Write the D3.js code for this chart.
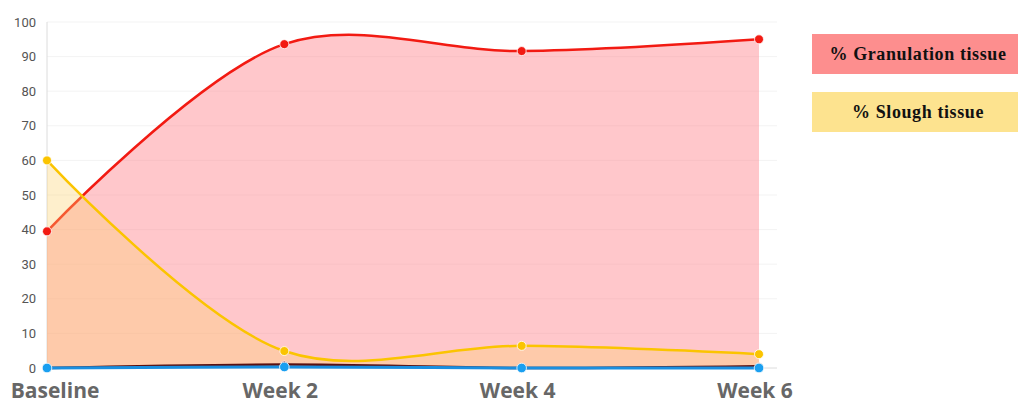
<!DOCTYPE html>
<html>
<head>
<meta charset="utf-8">
<script src="https://cdn.jsdelivr.net/npm/d3@7"></script>
<style>
  body { margin: 0; background: #fff; }
  svg { display: block; }
</style>
</head>
<body>
<svg id="chart"></svg>
<script>
// chart values
const weeks = ["Baseline", "Week 2", "Week 4", "Week 6"];
const granulation = [39.5, 93.6, 91.6, 95];
const slough = [60, 4.9, 6.4, 4];
const necrotic = [0, 1, 0, 0.5];
const other = [0, 0.3, 0, 0];
const yTicks = [0, 10, 20, 30, 40, 50, 60, 70, 80, 90, 100];
const legendItems = ["% Granulation tissue", "% Slough tissue"];

const width = 1018, height = 403;
const margin = {top: 22, right: 259, bottom: 35, left: 47};
const h = height - margin.top - margin.bottom;

const svg = d3.select("#chart").attr("width", width).attr("height", height);
const g = svg.append("g").attr("transform", `translate(${margin.left},${margin.top})`);

const x = d3.scalePoint().domain(weeks).range([0, 712]);
const y = d3.scaleLinear().domain([0, 100]).range([h, 0]);

// gridlines
g.selectAll(".grid")
    .data(yTicks.slice(1))
    .join("line")
    .attr("x1", 0).attr("x2", 730)
    .attr("y1", d => y(d)).attr("y2", d => y(d))
    .attr("stroke", "#f3f3f3");

// axis lines
g.append("line").attr("x1", 0).attr("x2", 0).attr("y1", 0).attr("y2", h)
    .attr("stroke", "#dcdcdc");
g.append("line").attr("x1", 0).attr("x2", 730).attr("y1", h).attr("y2", h)
    .attr("stroke", "#dcdcdc");

// y tick labels
g.selectAll(".ylab")
    .data(yTicks)
    .join("text")
    .attr("x", -11)
    .attr("y", d => y(d))
    .attr("dy", "0.35em")
    .attr("text-anchor", "end")
    .style("font-family", "Roboto, 'Open Sans', sans-serif")
    .style("font-size", "13px")
    .style("fill", "#555")
    .text(d => d);

// x tick labels
g.selectAll(".xlab")
    .data(weeks)
    .join("text")
    .attr("x", (d, i) => x(d) + (i === 0 ? 8 : -4))
    .attr("y", h + 30)
    .attr("text-anchor", "middle")
    .style("font-family", "'Open Sans', 'DejaVu Sans', sans-serif")
    .style("font-weight", "bold")
    .style("font-size", "21px")
    .style("fill", "#676767")
    .text(d => d);

const curve = d3.curveCatmullRom.alpha(0.5);

function drawSeries(vals, lineColor, fill, lw) {
  const pts = weeks.map((k, i) => [x(k), y(vals[i])]);
  if (fill) {
    g.append("path")
        .datum(pts)
        .attr("d", d3.area().x(d => d[0]).y0(h).y1(d => d[1]).curve(curve))
        .attr("fill", fill);
  }
  g.append("path")
      .datum(pts)
      .attr("d", d3.line().x(d => d[0]).y(d => d[1]).curve(curve))
      .attr("fill", "none")
      .attr("stroke", lineColor)
      .attr("stroke-width", lw);
  return pts;
}

const granPts = drawSeries(granulation, "#f21a12", "rgba(255,130,140,0.45)", 2.5);
const sloughPts = drawSeries(slough, "#fbc400", "rgba(253,210,110,0.35)", 2.5);
const necPts = drawSeries(necrotic, "#5a1010", null, 2.5);
const othPts = drawSeries(other, "#1a8fe0", null, 3);

function dots(pts, color, r) {
  g.append("g").selectAll("circle")
      .data(pts)
      .join("circle")
      .attr("cx", d => d[0]).attr("cy", d => d[1])
      .attr("r", r)
      .attr("fill", color)
      .attr("stroke", "#fff")
      .attr("stroke-width", 0.8);
}
dots(necPts, "#7a1010", 3.5);
dots(granPts, "#f21a12", 4.5);
dots(sloughPts, "#fbc400", 4.5);
dots(othPts, "#1a9ff0", 4.8);

// legend
const legendColors = ["#fd8e8e", "#fde38f"];
const lg = svg.append("g").attr("transform", "translate(812,34)");
lg.selectAll("rect")
    .data(legendItems)
    .join("rect")
    .attr("x", 0).attr("y", (d, i) => i * 58)
    .attr("width", 206).attr("height", 40)
    .attr("fill", (d, i) => legendColors[i]);
lg.selectAll("text")
    .data(legendItems)
    .join("text")
    .attr("x", 106).attr("y", (d, i) => i * 58 + 20)
    .attr("dy", "0.35em")
    .attr("text-anchor", "middle")
    .style("font-family", "'Liberation Serif', 'Times New Roman', serif")
    .style("font-weight", "bold")
    .style("font-size", "18px")
    .style("letter-spacing", "0.6px")
    .style("fill", "#111")
    .text(d => d);
</script>
</body>
</html>
